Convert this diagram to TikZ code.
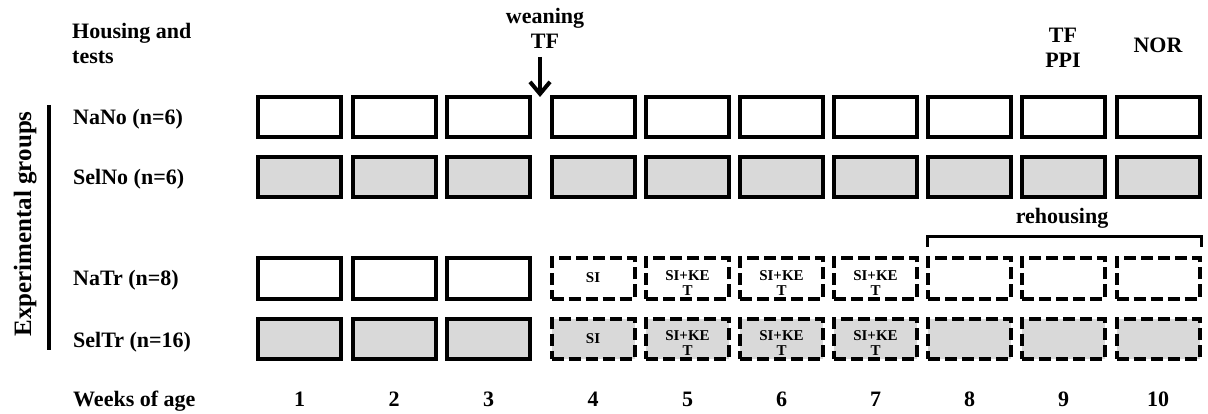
\documentclass[tikz,border=0pt]{standalone}
\usepackage{fontspec}
\setmainfont{Liberation Serif}
\usetikzlibrary{arrows.meta}
\definecolor{boxgray}{RGB}{217,217,217}
\begin{document}
\begin{tikzpicture}[x=1pt,y=-1pt,
  box/.style={draw=black, line width=4pt, minimum width=83pt, minimum height=40pt, inner sep=0pt},
  dbox/.style={box, dash pattern=on 12pt off 5pt},
  grayfill/.style={fill=boxgray},
  lbl/.style={font=\fontsize{22}{25}\selectfont\bfseries, inner sep=0pt},
  small/.style={font=\fontsize{15}{15}\selectfont\bfseries, inner sep=0pt, align=center},
  thick line/.style={line width=3.5pt}]
\useasboundingbox (0,0) rectangle (1208,414);

% rows 1 and 2 (all solid)
\foreach \c/\x in {1/299.5,2/394,3/488.5,4/593,5/687.5,6/781.5,7/875.5,8/969.5,9/1063.5,10/1158}{
  \node[box] (b\c-1) at (\x,117) {};
  \node[box,grayfill] (b\c-2) at (\x,177.5) {};
  \node[lbl,anchor=base] (w\c) at (\x,406) {\c};
}
% rows 3 and 4, weeks 1-3 solid
\foreach \c/\x in {1/299.5,2/394,3/488.5}{
  \node[box] (b\c-3) at (\x,278.5) {};
  \node[box,grayfill] (b\c-4) at (\x,338.5) {};
}
% rows 3 and 4, weeks 4-10 dashed
\foreach \c/\x in {4/593,5/687.5,6/781.5,7/875.5,8/969.5,9/1063.5,10/1158}{
  \node[dbox] (b\c-3) at (\x,278.5) {};
  \node[dbox,grayfill] (b\c-4) at (\x,338.5) {};
}
% texts in boxes
\node[small,anchor=base] (si3) at (593,283) {SI};
\node[small,anchor=base] (si4) at (593,343) {SI};
\foreach \c/\x in {5/687.5,6/781.5,7/875.5}{
  \node[small,anchor=base] (sk\c-3) at (\x,295) {SI+KE\\T};
  \node[small,anchor=base] (sk\c-4) at (\x,355) {SI+KE\\T};
}

% left labels
\node[lbl,align=left,anchor=base west] (housing) at (72,64) {Housing and\\tests};
\node[lbl,anchor=base west] (g1) at (73,125) {NaNo (n=6)};
\node[lbl,anchor=base west] (g2) at (73,185) {SelNo (n=6)};
\node[lbl,anchor=base west] (g3) at (73,285) {NaTr (n=8)};
\node[lbl,anchor=base west] (g4) at (73,347) {SelTr (n=16)};
\node[lbl,anchor=base west] (weeks) at (73,406) {Weeks of age};
\node[font=\fontsize{25}{25}\selectfont\bfseries,inner sep=0pt,rotate=90,anchor=base] (exp) at (31,224) {Experimental groups};
\coordinate (vlTop) at (49,105);
\coordinate (vlBot) at (49,350);
\draw[thick line] (vlTop) -- (vlBot);

% top labels
\node[lbl,align=center,anchor=base] (wean) at (545,49) {weaning\\TF};
\node[lbl,align=center,anchor=base] (tfppi) at (1063,68) {TF\\PPI};
\node[lbl,anchor=base] (nor) at (1158,53) {NOR};
\coordinate (arS) at (540,57);
\coordinate (arE) at (540,97);
\draw[thick line,-{Straight Barb[length=12pt,width=20pt,line width=4pt]}] (arS) -- (arE);

% rehousing bracket
\node[lbl,anchor=base] (rehous) at (1062,224) {rehousing};
\coordinate (brL) at (927,247);
\coordinate (brR) at (1201,247);
\draw[line width=3pt] (brL) -- ++(0,-10) -| (brR);
\end{tikzpicture}
\end{document}
